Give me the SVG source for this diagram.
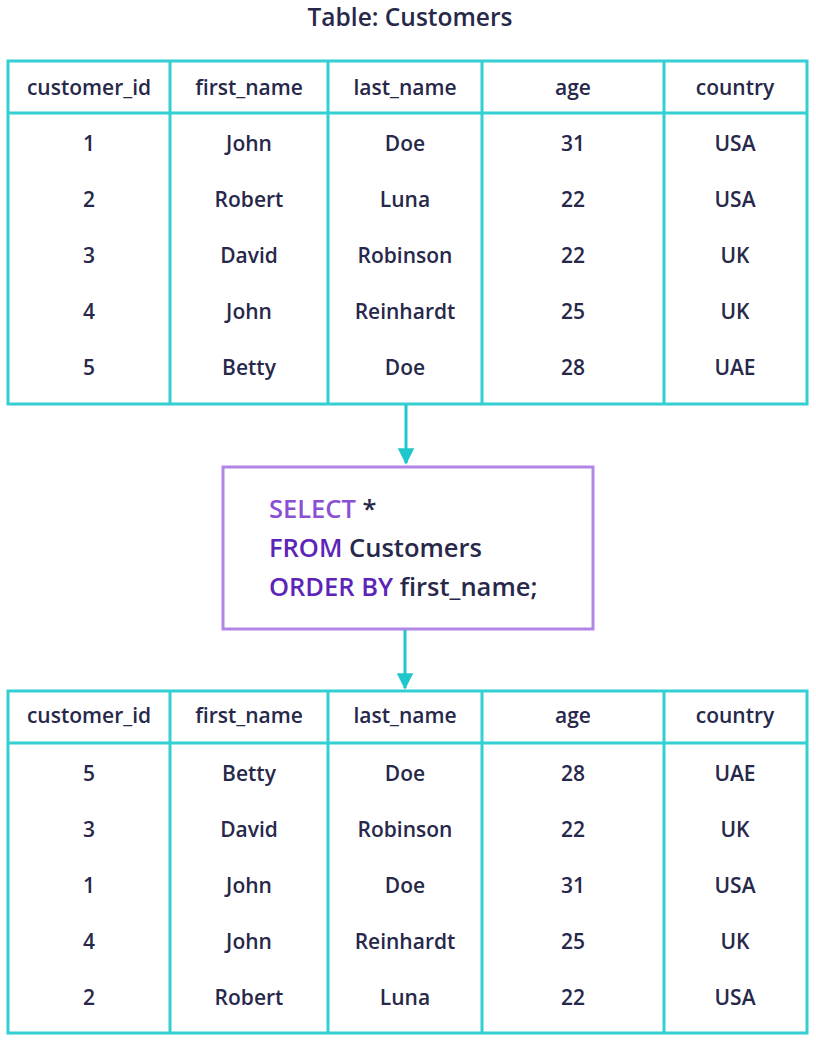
<svg xmlns="http://www.w3.org/2000/svg" width="816" height="1040" viewBox="0 0 816 1040">
<defs>
<style>
.grid{fill:none;stroke:#33cfd2;stroke-width:3}
.t{font-family:"Open Sans","Liberation Sans",sans-serif;font-size:21px;font-weight:600;fill:#27284a;text-anchor:middle}
.title{font-family:"Open Sans","Liberation Sans",sans-serif;font-size:24.5px;font-weight:600;fill:#27284a;text-anchor:middle}
.sql{font-family:"Open Sans","Liberation Sans",sans-serif;font-size:25.5px;font-weight:600;fill:#27284a}
.kw1{fill:#8b4fd6}
.kw2{fill:#5d24b8}
.conn{stroke:#1fc7cc;stroke-width:3;fill:none}
</style>
<marker id="ah" viewBox="0 0 10 10" refX="9" refY="5" markerWidth="6" markerHeight="5.5" markerUnits="strokeWidth" orient="auto">
<path d="M0,0 L10,5 L0,10 z" fill="#1fc7cc"/>
</marker>
</defs>
<rect width="816" height="1040" fill="#ffffff"/>

<text class="title" x="410" y="26">Table: Customers</text>

<g id="table-customers">
<rect class="grid" x="8" y="61" width="799" height="343"/>
<path class="grid" d="M8,113 H807 M170,61 V404 M328,61 V404 M482,61 V404 M664,61 V404"/>
<g class="t">
<text x="89" y="95">customer_id</text><text x="249" y="95">first_name</text><text x="405" y="95">last_name</text><text x="573" y="95">age</text><text x="735" y="95">country</text>
<text x="89" y="151">1</text><text x="249" y="151">John</text><text x="405" y="151">Doe</text><text x="573" y="151">31</text><text x="735" y="151">USA</text>
<text x="89" y="207">2</text><text x="249" y="207">Robert</text><text x="405" y="207">Luna</text><text x="573" y="207">22</text><text x="735" y="207">USA</text>
<text x="89" y="263">3</text><text x="249" y="263">David</text><text x="405" y="263">Robinson</text><text x="573" y="263">22</text><text x="735" y="263">UK</text>
<text x="89" y="319">4</text><text x="249" y="319">John</text><text x="405" y="319">Reinhardt</text><text x="573" y="319">25</text><text x="735" y="319">UK</text>
<text x="89" y="375">5</text><text x="249" y="375">Betty</text><text x="405" y="375">Doe</text><text x="573" y="375">28</text><text x="735" y="375">UAE</text>
</g>
</g>

<g id="sql-query">
<rect x="223" y="467" width="370" height="162" fill="#ffffff" stroke="#b386e6" stroke-width="3"/>
<text class="sql" x="269" y="518"><tspan class="kw1">SELECT</tspan> *</text>
<text class="sql" x="269" y="557"><tspan class="kw2">FROM</tspan> Customers</text>
<text class="sql" x="269" y="596"><tspan class="kw2">ORDER BY</tspan> first_name;</text>
</g>

<g id="table-result">
<rect class="grid" x="8" y="691" width="799" height="342"/>
<path class="grid" d="M8,743 H807 M170,691 V1033 M328,691 V1033 M482,691 V1033 M664,691 V1033"/>
<g class="t">
<text x="89" y="723">customer_id</text><text x="249" y="723">first_name</text><text x="405" y="723">last_name</text><text x="573" y="723">age</text><text x="735" y="723">country</text>
<text x="89" y="781">5</text><text x="249" y="781">Betty</text><text x="405" y="781">Doe</text><text x="573" y="781">28</text><text x="735" y="781">UAE</text>
<text x="89" y="837">3</text><text x="249" y="837">David</text><text x="405" y="837">Robinson</text><text x="573" y="837">22</text><text x="735" y="837">UK</text>
<text x="89" y="893">1</text><text x="249" y="893">John</text><text x="405" y="893">Doe</text><text x="573" y="893">31</text><text x="735" y="893">USA</text>
<text x="89" y="949">4</text><text x="249" y="949">John</text><text x="405" y="949">Reinhardt</text><text x="573" y="949">25</text><text x="735" y="949">UK</text>
<text x="89" y="1005">2</text><text x="249" y="1005">Robert</text><text x="405" y="1005">Luna</text><text x="573" y="1005">22</text><text x="735" y="1005">USA</text>
</g>
</g>

<g id="connectors">
<line class="conn" x1="406" y1="405" x2="406" y2="463" marker-end="url(#ah)"/>
<line class="conn" x1="405" y1="630" x2="405" y2="688" marker-end="url(#ah)"/>
</g>
</svg>
